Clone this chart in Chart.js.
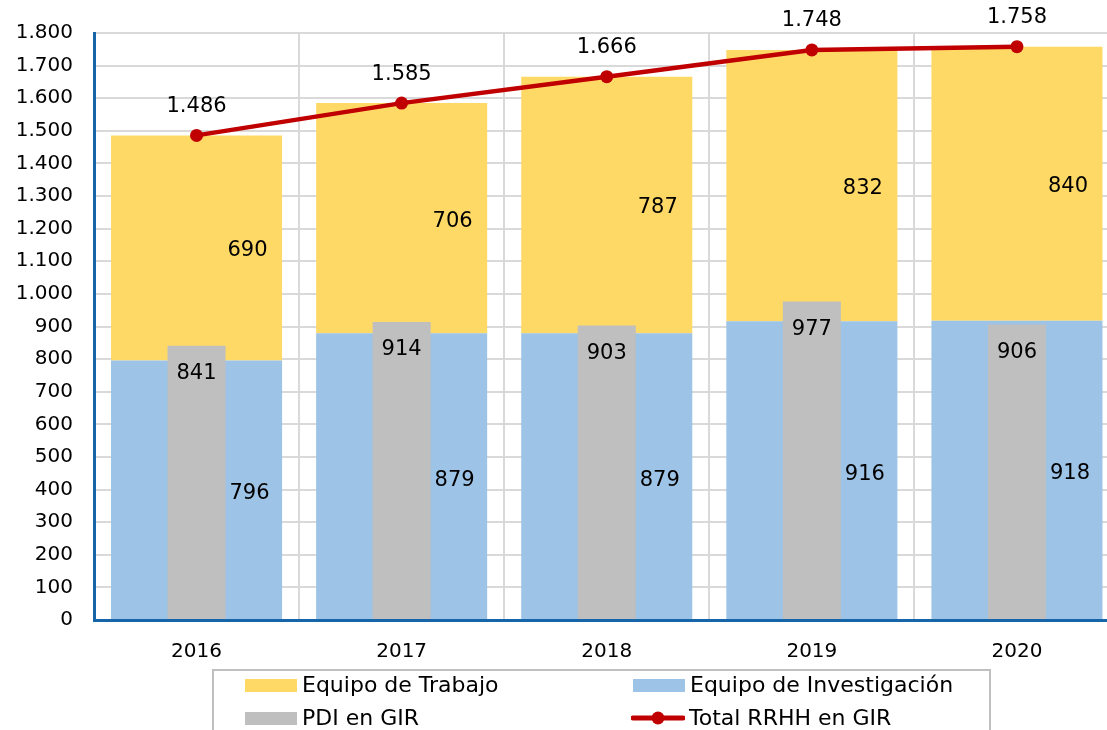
<!DOCTYPE html>
<html>
<head>
<meta charset="utf-8">
<script src="https://cdn.jsdelivr.net/npm/chart.js@4.4.0/dist/chart.umd.min.js"></script>
<style>
  html,body{margin:0;padding:0;background:#fff;overflow:hidden;width:1107px;height:730px;}
  #wrap{position:absolute;left:0;top:0;width:1126px;height:670px;}
  #legend{position:absolute;left:212px;top:669px;width:779px;height:80px;border:2px solid #bfbfbf;box-sizing:border-box;font-family:"DejaVu Sans",sans-serif;font-size:22px;color:#000;}
  .it{position:absolute;height:28px;line-height:28px;white-space:nowrap;}
  .sw{display:inline-block;width:52px;height:13px;vertical-align:middle;margin-right:5px;position:relative;top:-1px;}
  .ln{display:inline-block;width:54px;height:14px;vertical-align:middle;margin-right:4px;position:relative;top:-1px;}
</style>
</head>
<body>
<div id="wrap"><canvas id="c" width="1126" height="670"></canvas></div>
<div id="legend">
  <div class="it" style="left:31px;top:0px;"><span class="sw" style="background:#FFD966"></span>Equipo de Trabajo</div>
  <div class="it" style="left:419px;top:0px;"><span class="sw" style="background:#9DC3E6"></span>Equipo de Investigación</div>
  <div class="it" style="left:31px;top:33px;"><span class="sw" style="background:#BFBFBF"></span>PDI en GIR</div>
  <div class="it" style="left:417px;top:33px;"><svg class="ln" width="54" height="14" viewBox="0 0 54 14"><line x1="2" y1="7" x2="52" y2="7" stroke="#C00000" stroke-width="5" stroke-linecap="round"/><circle cx="27" cy="7" r="6.5" fill="#C00000"/></svg>Total RRHH en GIR</div>
</div>
<script>
const years = ['2016','2017','2018','2019','2020'];
const equipoInvestigacion = [796, 879, 879, 916, 918];
const equipoTrabajo = [690, 706, 787, 832, 840];
const pdiGir = [841, 914, 903, 977, 906];
const totalRrhh = [1486, 1585, 1666, 1748, 1758];
const yTicks = [0,100,200,300,400,500,600,700,800,900,1000,1100,1200,1300,1400,1500,1600,1700,1800];

const FONT = '"DejaVu Sans", sans-serif';
function fmt(v){ return String(v).replace(/\B(?=(\d{3})+(?!\d))/g, '.'); }

const labelPlugin = {
  id: 'valueLabels',
  afterDatasetsDraw(chart){
    const ctx = chart.ctx;
    ctx.save();
    ctx.font = '21px ' + FONT;
    ctx.fillStyle = '#000';
    ctx.textAlign = 'center';
    ctx.textBaseline = 'middle';
    chart.getDatasetMeta(0).data.forEach((b,i)=>{
      ctx.fillText(fmt(equipoInvestigacion[i]), b.x + 53, (b.y + b.base)/2 + 4);
    });
    chart.getDatasetMeta(1).data.forEach((b,i)=>{
      ctx.fillText(fmt(equipoTrabajo[i]), b.x + 51, (b.y + b.base)/2 + 3);
    });
    chart.getDatasetMeta(2).data.forEach((b,i)=>{
      ctx.fillText(fmt(pdiGir[i]), b.x, b.y + 28);
    });
    chart.getDatasetMeta(3).data.forEach((p,i)=>{
      ctx.fillText(fmt(totalRrhh[i]), p.x, p.y - 29);
    });
    ctx.restore();
  }
};

new Chart(document.getElementById('c'), {
  data: {
    labels: years,
    datasets: [
      { type:'bar', label:'Equipo de Investigación', data: equipoInvestigacion, backgroundColor:'#9DC3E6', stack:'a', grouped:false, barPercentage:0.834, categoryPercentage:1, order:3 },
      { type:'bar', label:'Equipo de Trabajo', data: equipoTrabajo, backgroundColor:'#FFD966', stack:'a', grouped:false, barPercentage:0.834, categoryPercentage:1, order:3 },
      { type:'bar', label:'PDI en GIR', data: pdiGir, backgroundColor:'#BFBFBF', stack:'b', grouped:false, barPercentage:0.283, categoryPercentage:1, order:2 },
      { type:'line', label:'Total RRHH en GIR', data: totalRrhh, borderColor:'#C00000', backgroundColor:'#C00000', borderWidth:4.5, pointRadius:6.5, pointBackgroundColor:'#C00000', pointBorderWidth:0, stack:'c', tension:0, order:1 }
    ]
  },
  options: {
    responsive:false,
    animation:false,
    events:[],
    layout:{ padding:{ top:33, right:0, left:0, bottom:0 } },
    plugins:{ legend:{display:false}, tooltip:{enabled:false} },
    scales:{
      x:{
        stacked:true,
        offset:true,
        grid:{ offset:true, color:'#d9d9d9', lineWidth:2, drawTicks:false },
        border:{ display:true, color:'#1565A8', width:3 },
        ticks:{ font:{ family:FONT, size:20 }, color:'#000', padding:20 },
        afterFit(s){ s.height = 50; }
      },
      y:{
        stacked:true,
        min:0, max:1800,
        afterBuildTicks(s){ s.ticks = yTicks.map(v=>({value:v})); },
        grid:{ color:'#d9d9d9', lineWidth:2, drawTicks:false },
        border:{ display:true, color:'#1565A8', width:3 },
        ticks:{ font:{ family:FONT, size:20 }, color:'#000', padding:21, callback:(v)=>fmt(v) },
        afterFit(s){ s.width = 94; }
      }
    }
  },
  plugins:[labelPlugin]
});
</script>
</body>
</html>
